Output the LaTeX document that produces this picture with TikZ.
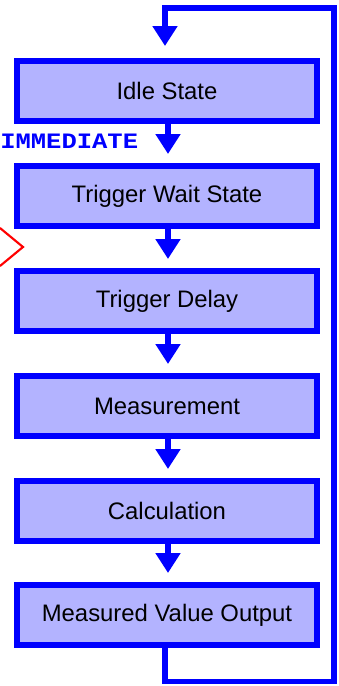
\documentclass[tikz,border=0pt]{standalone}
\usepackage{fontspec}
\setmainfont{Liberation Sans}
\newfontfamily\monofont{Liberation Mono}
\usetikzlibrary{arrows.meta}
\definecolor{boxfill}{RGB}{179,179,255}
\definecolor{boxblue}{RGB}{0,0,255}
\tikzset{
  stage/.style={draw=boxblue, fill=boxfill, line width=4.5pt,
    minimum width=225pt, minimum height=45pt, inner sep=0pt,
    font=\fontsize{17.9pt}{20pt}\selectfont, text=black},
  flowarrow/.style={draw=boxblue, line width=4.5pt,
    -{Triangle[width=18pt,length=15pt]}, shorten >=6.75pt},
  loopline/.style={draw=boxblue, line width=4.2pt, line join=miter,
    -{Triangle[width=18pt,length=15pt]}, shorten >=9pt},
}
\begin{document}
\begin{tikzpicture}[x=0.75pt,y=-0.75pt]
\useasboundingbox (0,0) rectangle (339,686);
\node[stage] (idle) at (167,91) {Idle State};
\node[stage] (wait) at (167,196) {Trigger Wait State};
\node[stage] (delay) at (167,301) {Trigger Delay};
\node[stage] (meas) at (167,406) {Measurement};
\node[stage] (calc) at (167,511) {Calculation};
\node[stage] (out) at (167,615) {Measured Value Output};
\draw[flowarrow] ([xshift=0.75pt]idle.south) -- ([xshift=0.75pt]wait.north);
\draw[flowarrow] ([xshift=0.75pt]wait.south) -- ([xshift=0.75pt]delay.north);
\draw[flowarrow] ([xshift=0.75pt]delay.south) -- ([xshift=0.75pt]meas.north);
\draw[flowarrow] ([xshift=0.75pt]meas.south) -- ([xshift=0.75pt]calc.north);
\draw[flowarrow] ([xshift=0.75pt]calc.south) -- ([xshift=0.75pt]out.north);
\coordinate (c1) at (165,681.5);
\coordinate (c2) at (334,681.5);
\coordinate (c3) at (334,8);
\coordinate (c4) at (165,8);
\draw[loopline] ([xshift=-1.5pt]out.south) -- (c1) -- (c2) -- (c3) -- (c4) -- ([xshift=-1.5pt]idle.north);
\node[anchor=base west, inner sep=0pt, text=boxblue, xscale=1.16,
  font=\monofont\bfseries\fontsize{16.5pt}{18pt}\selectfont] (imm) at (0,148) {IMMEDIATE};
\coordinate (r1) at (0,228);
\coordinate (r2) at (23,247);
\coordinate (r3) at (0,266);
\draw[red, line width=1.6pt, line join=miter] (r1) -- (r2) -- (r3);
\end{tikzpicture}
\end{document}
